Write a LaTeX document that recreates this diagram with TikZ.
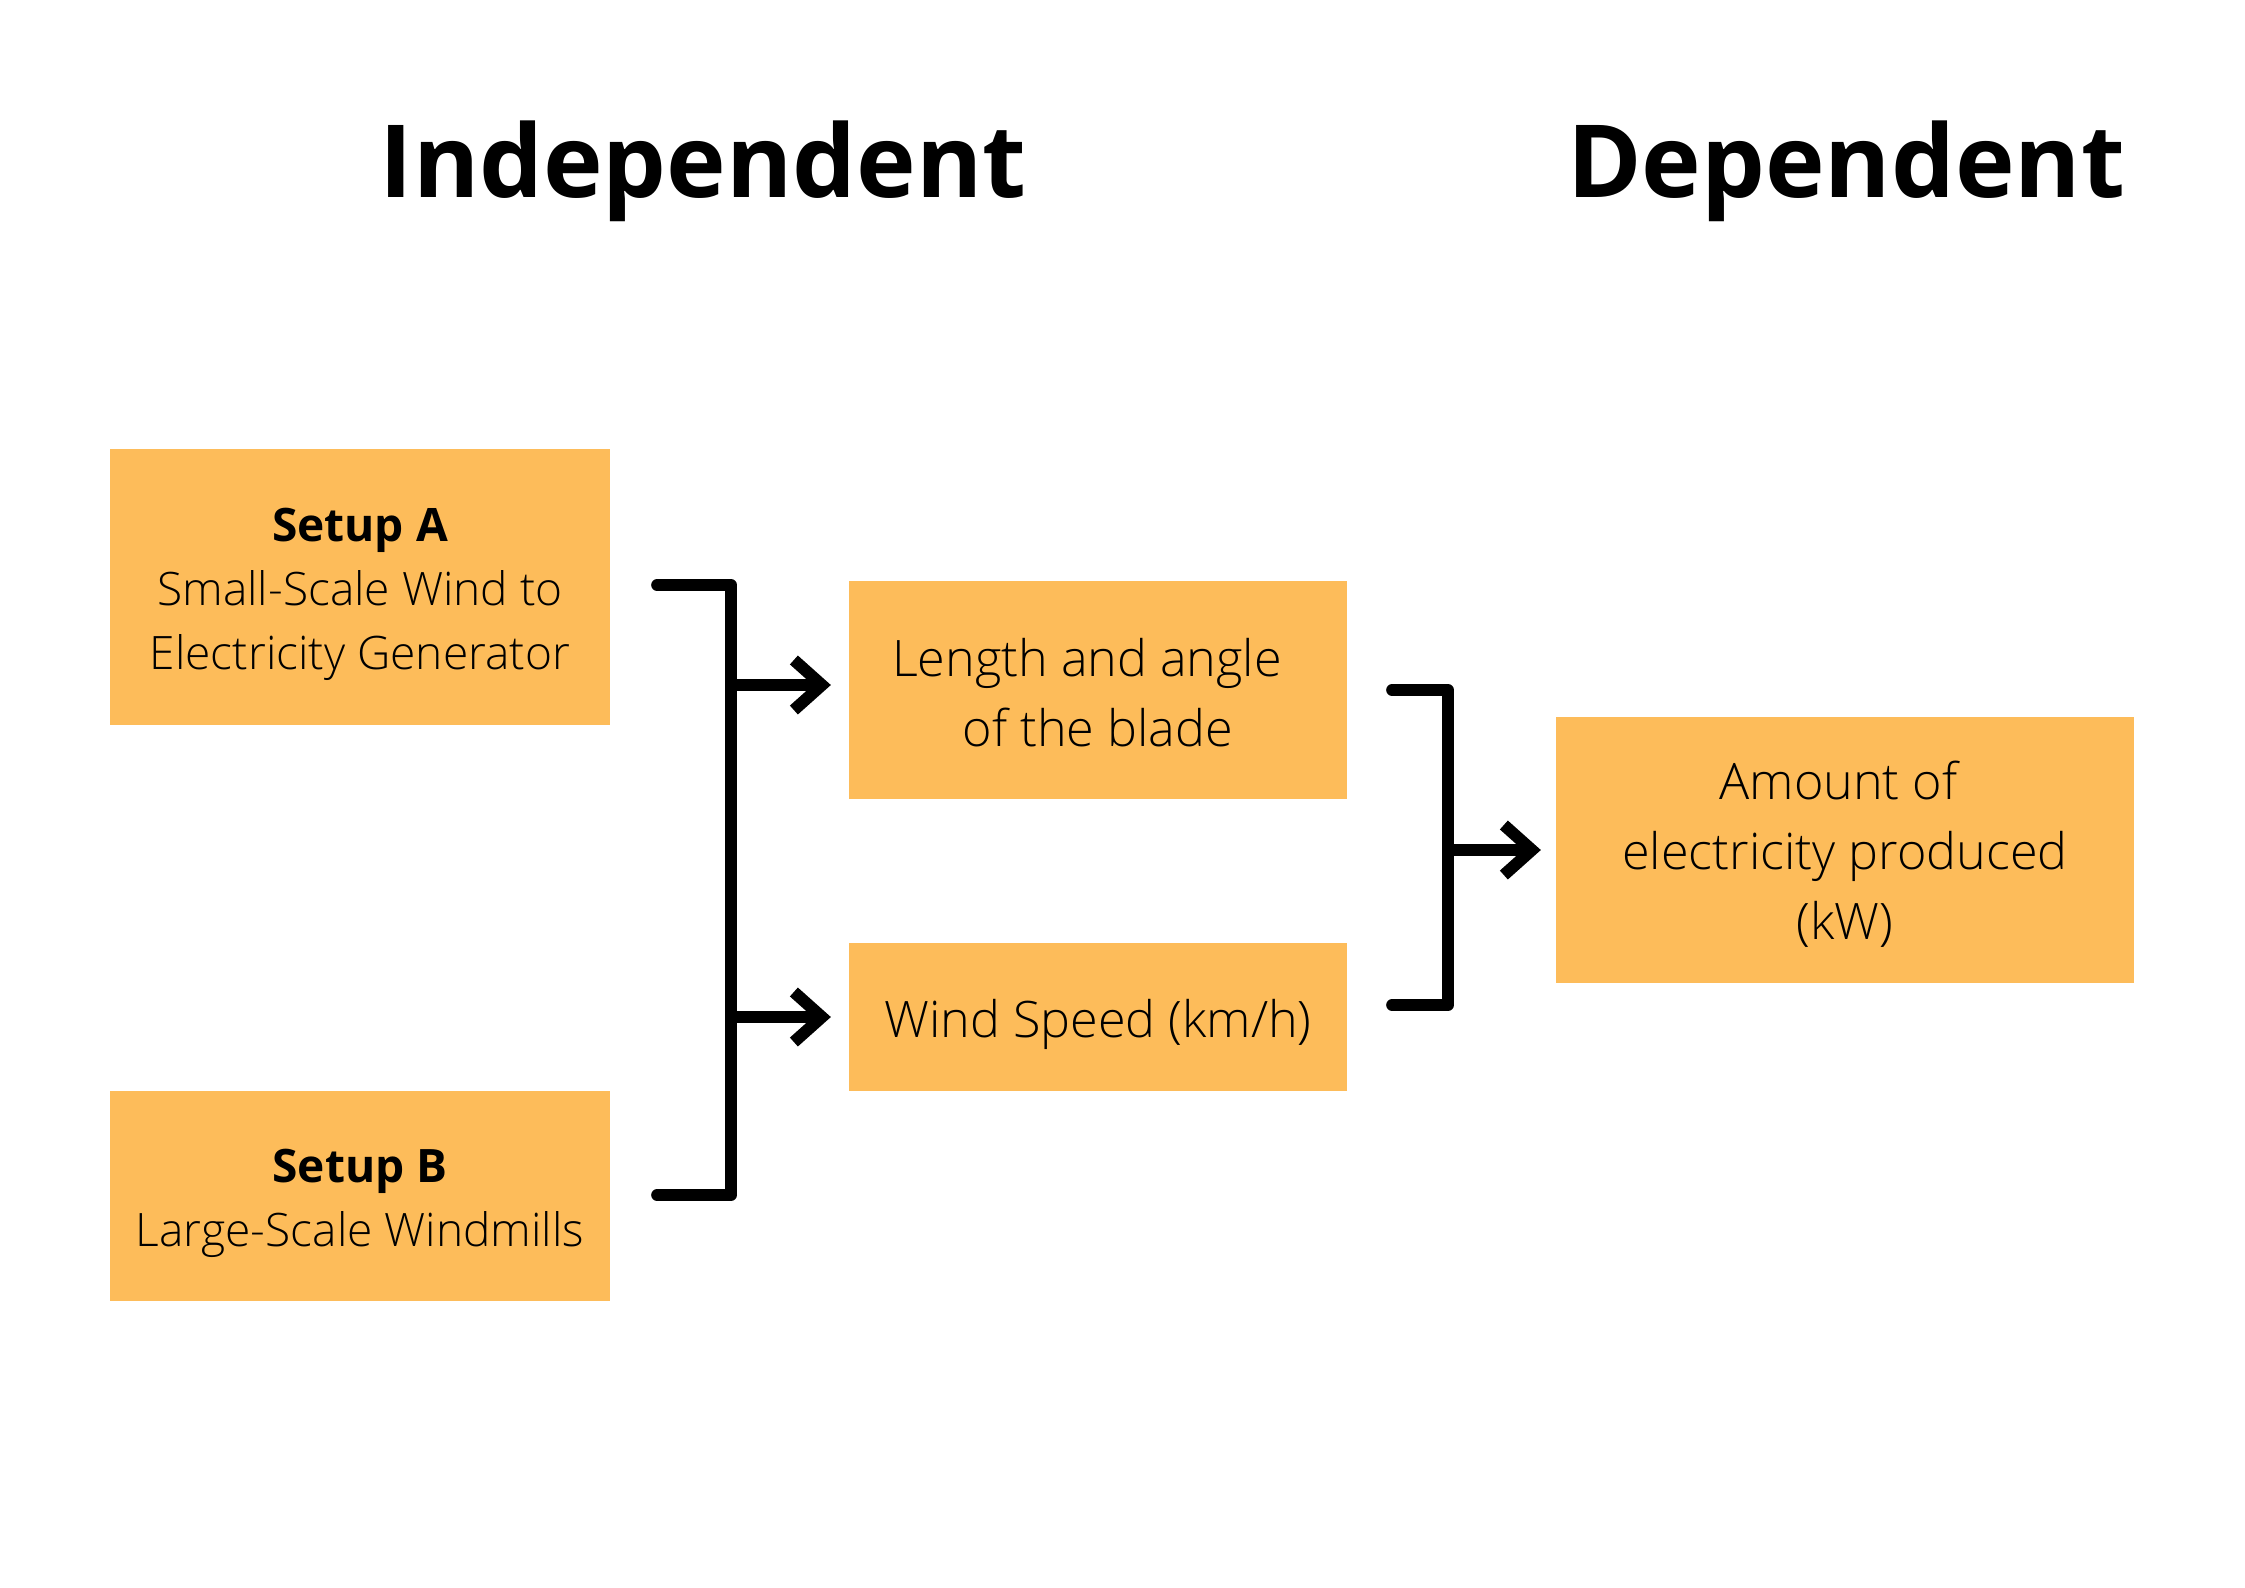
\documentclass[tikz,border=0pt]{standalone}
\usepackage{fontspec}
\setmainfont{Open Sans}[UprightFont=* Light, BoldFont=* Bold]
\usetikzlibrary{arrows.meta}
\definecolor{myorange}{RGB}{253,188,90}
\newcommand\topstrut[1]{\rule{0pt}{#1}}

\begin{document}
\begin{tikzpicture}[x=0.01cm,y=-0.01cm,line width=3.4pt,line cap=round,line join=round,>={Straight Barb[length=0.28cm,width=0.5cm]}]
      \tikzstyle{box}=[fill=myorange,draw=none,inner sep=0pt,align=center,font=\fontsize{13.1}{18.2}\selectfont]
      \tikzstyle{bigbox}=[box,font=\fontsize{14.3}{19.9}\selectfont]
      \tikzstyle{heading}=[anchor=base,inner sep=0pt,font=\bfseries\fontsize{28.7}{34}\selectfont]
      \useasboundingbox (0,0) rectangle (2245,1587);

      \node[heading] (indep) at (703,197) {Independent};
      \node[heading] (dep) at (1846,197) {Dependent};

      \node[box,minimum width=5cm,minimum height=2.75cm] (setupA) at (360,587) {\topstrut{13.5pt}\textbf{Setup A}\\Small-Scale Wind to\\Electricity Generator};
      \node[box,minimum width=5cm,minimum height=2.09cm] (setupB) at (360,1196) {\topstrut{13.5pt}\textbf{Setup B}\\Large-Scale Windmills};
      \node[bigbox,minimum width=4.98cm,minimum height=2.17cm] (blade) at (1098,690) {\topstrut{12.6pt}Length and angle\kern0.22cm\\of the blade};
      \node[bigbox,minimum width=4.98cm,minimum height=1.48cm] (wind) at (1098,1017) {\topstrut{15pt}Wind Speed (km/h)};
      \node[bigbox,minimum width=5.78cm,minimum height=2.66cm] (amount) at (1845,850) {\topstrut{13.2pt}Amount of\kern0.13cm\\electricity produced\\(kW)};

      \coordinate (jA) at (731,585);
      \coordinate (jB) at (731,1195);
      \coordinate (jC) at (1448,690);
      \coordinate (jD) at (1448,1005);
      \draw ([xshift=0.41cm]setupA.east |- jA) -- (jA) -- (jB) -- ([xshift=0.41cm]setupB.east |- jB);
      \draw[->] ([yshift=0.05cm]jA |- blade.west) -- ([xshift=-0.12cm,yshift=0.05cm]blade.west);
      \draw[->] (jA |- wind.west) -- ([xshift=-0.12cm]wind.west);
      \draw ([xshift=0.39cm]blade.east) -- (jC) -- (jD) -- ([xshift=0.39cm]wind.east |- jD);
      \draw[->] (jC |- amount.west) -- ([xshift=-0.09cm]amount.west);
\end{tikzpicture}
\end{document}
